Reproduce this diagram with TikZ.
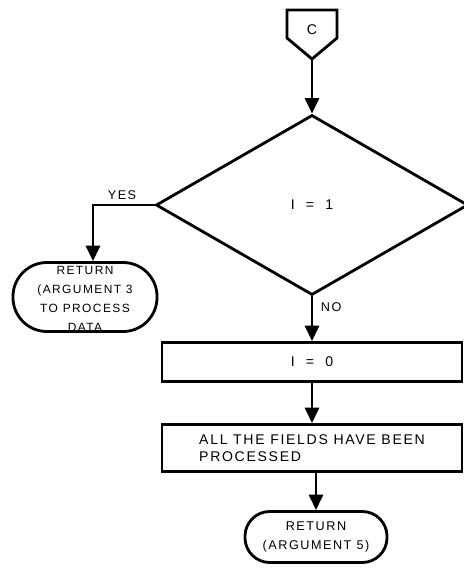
\documentclass[tikz,border=0pt]{standalone}
\usepackage{fontspec}
\setmainfont{Liberation Sans}[LetterSpace=12]
\usetikzlibrary{shapes.geometric, arrows.meta}

\begin{document}
\begin{tikzpicture}[x=0.025cm, y=-0.025cm,
    flow/.style={line width=2pt, -{Triangle[width=10pt, length=11pt]}},
    block/.style={draw, line width=2pt, minimum width=7.5cm, inner sep=2pt, font=\normalsize},
    term/.style={draw, line width=2pt, align=center, inner sep=0pt}]
    \useasboundingbox (0,0) rectangle (464,568);

    % Draw connector
    \draw [line width=2pt] (287,10) -- (337,10) -- (337,38) -- (312,59) -- (287,38) -- cycle;
    \node (conn) at (312,30) {C};
    \coordinate (ctip) at (312,59);

    % Draw decision
    \node [draw, diamond, line width=2pt, minimum width=7.8cm, minimum height=4.5cm, inner sep=0pt, font=\normalsize] (dec) at (312,205) {I \ = \ 1};
    \coordinate (yesbend) at (93,205);

    % Draw boxes
    \node [block, minimum height=0.975cm] (clear) at (312,362) {I \ = \ 0};
    \node [block, minimum height=1.175cm, align=left] (done) at (312,448) {ALL THE FIELDS HAVE BEEN\\PROCESSED};
    \node [term, minimum width=3.6cm, minimum height=1.725cm, text height=48.5pt, text depth=0pt, rounded corners=0.85cm, font=\fontsize{8.5}{13.5}\selectfont] (ret3) at (85,297) {RETURN\\(ARGUMENT 3\\TO PROCESS\\DATA};
    \node [term, minimum width=3.55cm, minimum height=1.275cm, rounded corners=0.62cm, font=\small] (ret5) at (316,537) {RETURN\\[3pt](ARGUMENT 5)};

    % Draw flow lines
    \draw [flow] (ctip) -- (dec.north);
    \draw [flow] (dec.west) -- (yesbend) -- (yesbend |- ret3.north);
    \draw [flow] (dec.south) -- (clear.north);
    \draw [flow] (clear.south) -- (done.north);
    \draw [flow] (done.south -| ret5.north) -- (ret5.north);

    \node [above, font=\small] (lyes) at (122,205) {YES};
    \node [right, font=\small] (lno) at (316,307) {NO};

\end{tikzpicture}
\end{document}
